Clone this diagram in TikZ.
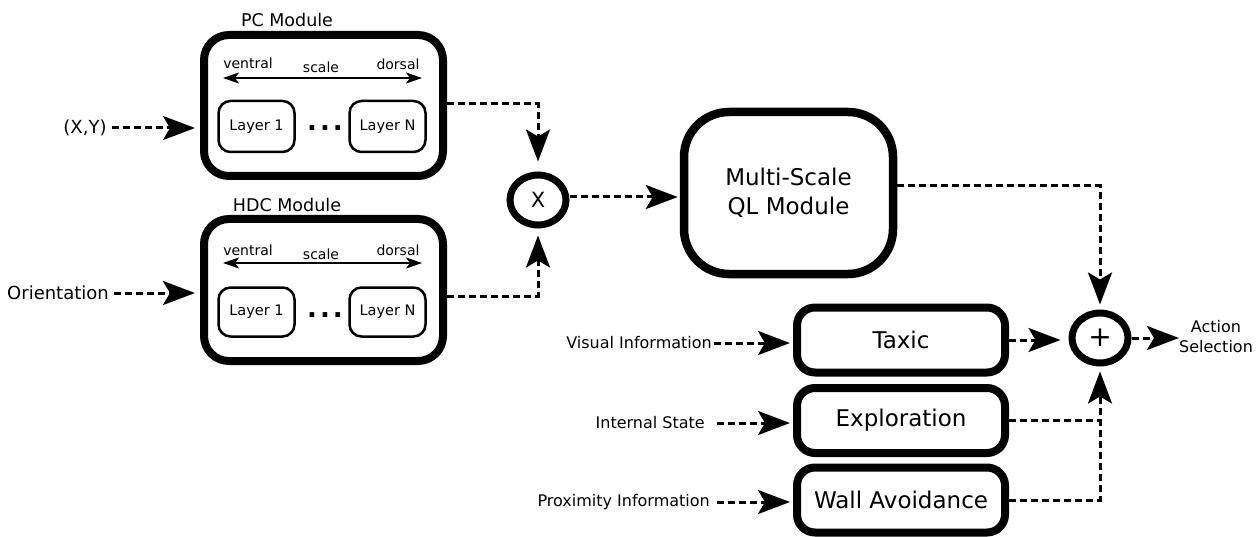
\documentclass[tikz,border=0pt]{standalone}
\usepackage{fontspec}
\setmainfont{DejaVu Sans}
\usetikzlibrary{arrows.meta,shapes.geometric,calc}
\begin{document}
\begin{tikzpicture}[x=1pt,y=-1pt,
  lbl/.style={inner sep=0pt},
  ttl/.style={inner sep=0pt,font=\fontsize{17.5}{21}\selectfont},
  sml/.style={inner sep=0pt,font=\fontsize{14}{17}\selectfont},
  inl/.style={inner sep=0pt,font=\fontsize{16}{20}\selectfont},
  bigbox/.style={draw,line width=8pt,rounded corners=25pt,inner sep=0pt,minimum width=239pt},
  layerbox/.style={draw,line width=2.5pt,rounded corners=12pt,minimum width=76pt,inner sep=0pt,font=\fontsize{14.5}{17}\selectfont},
  modbox/.style={draw,line width=8pt,rounded corners=18pt,minimum width=208pt,minimum height=65pt,inner sep=0pt,font=\fontsize{23}{28}\selectfont},
  opnode/.style={draw,ellipse,line width=7pt,minimum width=56pt,minimum height=50pt,inner sep=0pt},
  dotsnode/.style={inner sep=0pt,font=\fontsize{26}{26}\selectfont\bfseries},
  conn/.style={line width=3pt,dash pattern=on 7pt off 4pt,-{Stealth[length=32pt,width=24pt,inset=7pt]}},
  plainconn/.style={line width=3pt,dash pattern=on 7pt off 4pt},
  scalearrow/.style={line width=2pt,{Stealth[length=16pt,width=11pt,inset=4pt]}-{Stealth[length=16pt,width=11pt,inset=4pt]}}
]
\useasboundingbox (0,0) rectangle (1257,537);

% PC module
\node[ttl] (pct) at (287,20) {PC Module};
\node[bigbox,minimum height=141pt] (pc) at (323.5,105.5) {};
\node[sml] (pcv) at (248,63) {ventral};
\node[sml] (pcs) at (321,67) {scale};
\node[sml] (pcd) at (398,64) {dorsal};
\coordinate (pca) at (223,78);
\coordinate (pcb) at (422,78);
\draw[scalearrow] (pca) -- (pcb);
\node[layerbox,minimum height=51pt] (pc1) at (256.5,126.5) {Layer 1};
\node[layerbox,minimum height=51pt] (pcn) at (387.5,126.5) {Layer N};
\node[dotsnode] (pcdots) at (325,128) {.\hspace{3pt}.\hspace{3pt}.};

% HDC module
\node[ttl] (hdct) at (287,205) {HDC Module};
\node[bigbox,minimum height=142pt] (hdc) at (323.5,290) {};
\node[sml] (hdcv) at (248,250) {ventral};
\node[sml] (hdcs) at (321,254) {scale};
\node[sml] (hdcd) at (398,250) {dorsal};
\coordinate (hdca) at (223,263);
\coordinate (hdcb) at (422,263);
\draw[scalearrow] (hdca) -- (hdcb);
\node[layerbox,minimum height=49pt] (hdc1) at (256.5,312) {Layer 1};
\node[layerbox,minimum height=49pt] (hdcn) at (387.5,312) {Layer N};
\node[dotsnode] (hdcdots) at (325,315) {.\hspace{3pt}.\hspace{3pt}.};

% inputs
\node[lbl,font=\fontsize{18}{22}\selectfont] (xy) at (85,128) {(X,Y)};
\node[lbl,font=\fontsize{18}{22}\selectfont] (ori) at (58,293) {Orientation};

% multiplication
\node[opnode,font=\fontsize{21}{24}\selectfont] (mul) at (538,200) {X};

% QL
\node[draw,line width=8.5pt,rounded corners=45pt,minimum width=209pt,minimum height=162pt,inner sep=0pt,align=center,font=\fontsize{23}{29}\selectfont] (ql) at (788.5,193) {Multi-Scale\\QL Module};

% behaviour modules
\node[modbox] (tax) at (901,340) {Taxic};
\node[modbox] (exp) at (901,420.5) {Exploration};
\node[modbox] (wall) at (901,500) {Wall Avoidance};

\node[inl,anchor=east] (vis) at (712,343) {Visual Information};
\node[inl,anchor=east] (int) at (705,423) {Internal State};
\node[inl,anchor=east] (prox) at (710,502) {Proximity Information};

% sum
\node[opnode,font=\fontsize{28}{28}\selectfont] (sum) at (1100,338) {+};
\node[inl,align=center,font=\fontsize{16}{20}\selectfont] (act) at (1216,337) {Action\\Selection};

% connectors
\draw[conn,shorten <=5pt,shorten >=5pt] (xy.east) -- (xy.east -| pc.west);
\draw[conn,shorten <=5pt,shorten >=5pt] (ori.east) -- (ori.east -| hdc.west);
\draw[conn,shorten >=10pt] ([yshift=1.5pt]pc.east) -| (mul.north);
\draw[conn,shorten >=7pt] ([yshift=-6pt]hdc.east) -| (mul.south);
\draw[conn,shorten >=2pt] ([yshift=3pt]mul.east) -- ([yshift=3pt]mul.east -| ql.west);
\draw[conn,shorten >=5pt] ([yshift=7pt]ql.east) -| (sum.north);
\draw[conn,shorten >=8pt] (tax.east) -- (tax.east -| sum.west);
\draw[conn] (sum.east) -- (sum.east -| act.west);
\draw[plainconn] (exp.east) -- (exp.east -| sum.south);
\draw[conn,shorten >=5pt] (wall.east) -| (sum.south);
\draw[conn,shorten <=2pt,shorten >=3pt] (vis.east) -- (vis.east -| tax.west);
\draw[conn,shorten <=12pt,shorten >=3pt] (int.east) -- (int.east -| exp.west);
\draw[conn,shorten <=7pt,shorten >=3pt] (prox.east) -- (prox.east -| wall.west);
\end{tikzpicture}
\end{document}
